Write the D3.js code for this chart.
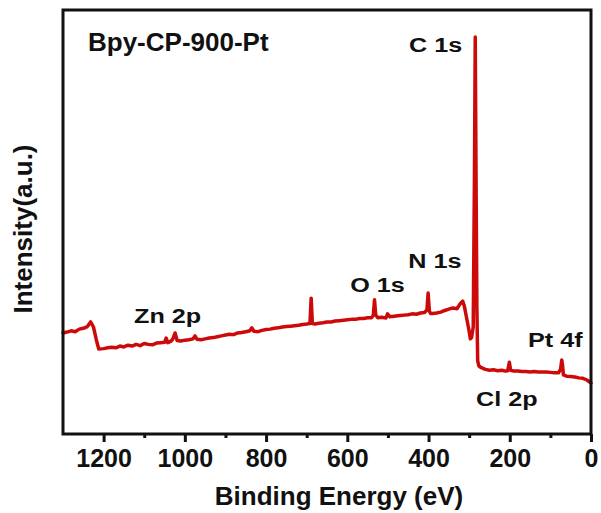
<!DOCTYPE html>
<html>
<head>
<meta charset="utf-8">
<script src="https://cdn.jsdelivr.net/npm/d3@7"></script>
<style>
    body { margin: 0; background: #fff; }
    text { font-family: "Liberation Sans", Arial, sans-serif; font-weight: bold; fill: #111; }
</style>
</head>
<body>
<div id="xps"></div>
<script>
/*
    XPS survey spectrum of Bpy-CP-900-Pt
 */

// binding energy (eV) and intensity (a.u.)
var bindingEnergy = [
    1300, 1290, 1280, 1270, 1260, 1250, 1240, 1232, 1225, 1218, 1212, 1200, 1190, 1180, 1170,
    1160, 1150, 1140, 1130, 1120, 1110, 1100, 1090, 1080, 1070, 1060, 1050, 1046, 1042, 1035,
    1030, 1024, 1019, 1010, 1000, 990, 980, 975, 970, 960, 950, 940, 930, 920, 910,
    900, 890, 880, 870, 860, 850, 840, 835, 830, 820, 810, 800, 790, 780, 770,
    760, 750, 740, 730, 720, 710, 700, 692, 689, 686, 680, 670, 660, 650, 640,
    630, 620, 610, 600, 590, 580, 570, 560, 550, 540, 536, 533, 530, 525, 515,
    505, 501, 495, 490, 480, 470, 460, 450, 440, 430, 420, 410, 404, 401, 398,
    395, 390, 380, 370, 360, 350, 340, 330, 322, 316, 312, 306, 300, 297, 294,
    290, 287, 285, 283, 281, 279, 276, 270, 260, 250, 240, 230, 220, 210, 205,
    201, 198, 190, 180, 170, 160, 150, 140, 130, 120, 110, 100, 90, 80, 75,
    72, 70, 68, 60, 50, 40, 30, 20, 10, 0
];

var intensity = [
    236, 238, 241, 239, 245, 247, 251, 262, 250, 220, 198, 199, 201, 202, 201,
    205, 203, 207, 205, 209, 206, 211, 209, 208, 212, 213, 214, 224, 213, 216,
    221, 236, 218, 217, 219, 220, 222, 229, 221, 220, 222, 224, 225, 227, 229,
    231, 233, 232, 236, 237, 239, 241, 248, 240, 239, 242, 244, 245, 247, 248,
    250, 251, 252, 253, 254, 256, 257, 258, 318, 258, 257, 259, 260, 262, 262,
    264, 265, 266, 267, 268, 268, 270, 270, 272, 272, 278, 314, 278, 272, 273,
    271, 281, 274, 275, 276, 277, 278, 279, 281, 280, 283, 284, 290, 330, 288,
    282, 282, 283, 285, 289, 292, 295, 293, 305, 311, 300, 270, 240, 222, 225,
    250, 600, 934, 600, 300, 170, 158, 154, 150, 148, 149, 147, 148, 146, 147,
    167, 148, 146, 146, 145, 145, 144, 145, 144, 144, 144, 143, 142, 142, 150,
    172, 160, 137, 134, 133, 132, 130, 129, 125, 118
];

var xTicks = [1200, 1000, 800, 600, 400, 200, 0];
var xMinorTicks = [1100, 900, 700, 500, 300, 100];

// peak assignments (text, energy, intensity of the label baseline)
var peakNames = ["C 1s", "N 1s", "O 1s", "Zn 2p", "Pt 4f", "Cl 2p"];
var peakLabelEnergy = [317, 450, 593, 1125, 155, 283];
var peakLabelIntensity = [899, 389, 332, 259, 203, 64];

var sampleName = "Bpy-CP-900-Pt";

var width = 601, height = 513;
var margin = {top: 10, right: 10, bottom: 79, left: 63};

var svg = d3.select("#xps").append("svg")
    .attr("width", width)
    .attr("height", height);

var xScale = d3.scaleLinear()
    .domain([1300, 0])
    .range([margin.left, width - margin.right]);

var yScale = d3.scaleLinear()
    .domain([0, 1000])
    .range([height - margin.bottom - 1, margin.top - 1]);

var spectrum = bindingEnergy.map(function(e, i) { return {e: e, v: intensity[i]}; });

var line = d3.line()
    .x(function(d) { return xScale(d.e); })
    .y(function(d) { return yScale(d.v); });

svg.append("path")
    .datum(spectrum)
    .attr("d", line)
    .attr("fill", "none")
    .attr("stroke", "#cc0a0a")
    .attr("stroke-width", 3.5)
    .attr("stroke-linejoin", "round")
    .attr("stroke-linecap", "round");

// frame
svg.append("rect")
    .attr("x", margin.left)
    .attr("y", margin.top)
    .attr("width", width - margin.right - margin.left)
    .attr("height", height - margin.bottom - margin.top)
    .attr("fill", "none")
    .attr("stroke", "#111")
    .attr("stroke-width", 3);

// x axis
var xAxis = d3.axisBottom(xScale)
    .tickValues(xTicks)
    .tickSize(8)
    .tickPadding(7)
    .tickFormat(d3.format("d"));

var gx = svg.append("g")
    .attr("class", "x-axis")
    .attr("transform", "translate(0," + (height - margin.bottom) + ")")
    .call(xAxis);

gx.select(".domain").remove();
gx.selectAll(".tick line").attr("stroke", "#111").attr("stroke-width", 3);
gx.selectAll(".tick text")
    .style("font-size", "25px")
    .attr("fill", "#111");

var gxMinor = svg.append("g")
    .attr("transform", "translate(0," + (height - margin.bottom) + ")")
    .call(d3.axisBottom(xScale).tickValues(xMinorTicks).tickSize(4).tickFormat(""));
gxMinor.select(".domain").remove();
gxMinor.selectAll(".tick line").attr("stroke", "#111").attr("stroke-width", 3);

// axis titles
svg.append("text")
    .attr("x", 339)
    .attr("y", 505)
    .attr("text-anchor", "middle")
    .style("font-size", "26px")
    .text("Binding Energy (eV)");

svg.append("text")
    .attr("transform", "translate(32,229) rotate(-90)")
    .attr("text-anchor", "middle")
    .style("font-size", "26px")
    .text("Intensity(a.u.)");

svg.append("text")
    .attr("x", 88)
    .attr("y", 51)
    .style("font-size", "26px")
    .text(sampleName);

// peak labels
svg.selectAll(".peak")
    .data(peakNames)
    .enter().append("text")
    .attr("class", "peak")
    .attr("text-anchor", function(d, i) { return i === 0 ? "end" : "start"; })
    .attr("transform", function(d, i) {
        return "translate(" + xScale(peakLabelEnergy[i]) + "," + yScale(peakLabelIntensity[i]) + ") scale(1.2,1)";
    })
    .style("font-size", "21px")
    .text(function(d) { return d; });
</script>
</body>
</html>
